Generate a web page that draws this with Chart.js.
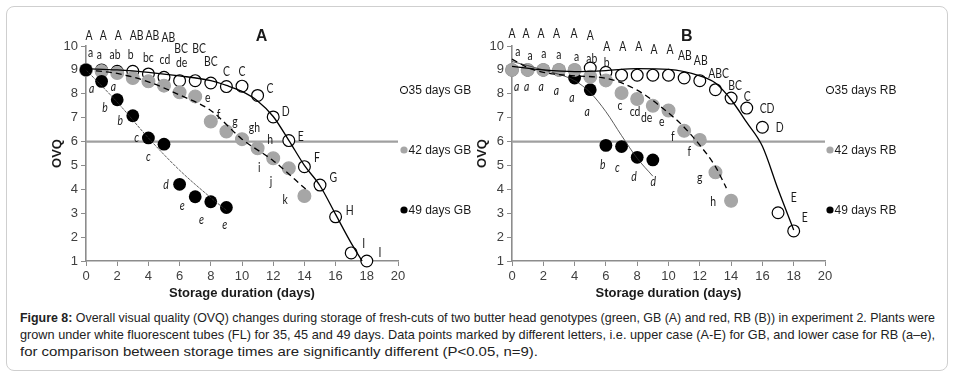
<!DOCTYPE html>
<html>
<head>
<meta charset="utf-8">
<script src="https://cdn.jsdelivr.net/npm/chart.js@4.4.1/dist/chart.umd.min.js"></script>
<style>
  body { margin: 0; background: #fff; width: 955px; height: 379px; overflow: hidden; position: relative; font-family: Arial, "Liberation Sans", sans-serif; }
  #frame { position: absolute; left: 6px; top: 6px; width: 940px; height: 363px; border: 1.5px solid #cfcfcf; border-radius: 8px; }
  #wrapA { position: absolute; left: 0; top: 0; }
  #wrapB { position: absolute; left: 475px; top: 0; }
  #caption { position: absolute; left: 20px; top: 309px; font-size: 13px; line-height: 17px; color: #222; }
  .line { display: block; white-space: nowrap; width: max-content; transform-origin: 0 0; }
</style>
</head>
<body>
<div id="frame"></div>
<div id="wrapA"><canvas id="chartA" width="475" height="305"></canvas></div>
<div id="wrapB"><canvas id="chartB" width="480" height="305"></canvas></div>
<div id="caption">
  <span class="line" data-w="915"><b>Figure 8:</b> Overall visual quality (OVQ) changes during storage of fresh-cuts of two butter head genotypes (green, GB (A) and red, RB (B)) in experiment 2. Plants were</span>
  <span class="line" data-w="915">grown under white fluorescent tubes (FL) for 35, 45 and 49 days. Data points marked by different letters, i.e. upper case (A-E) for GB, and lower case for RB (a–e),</span>
  <span class="line" data-w="518">for comparison between storage times are significantly different (P&lt;0.05, n=9).</span>
</div>
<script>
// ---- Panel A (GB) ----
const daysGB35 = [0, 1, 2, 3, 4, 5, 6, 7, 8, 9, 10, 11, 12, 13, 14, 15, 16, 17, 18];
const ovqGB35 = [9.0, 9.0, 8.94, 8.94, 8.83, 8.69, 8.55, 8.55, 8.45, 8.3, 8.32, 7.93, 7.03, 6.04, 4.95, 4.18, 2.85, 1.34, 1.0];
const daysGB42 = [0, 1, 2, 3, 4, 5, 6, 7, 8, 9, 10, 11, 12, 13, 14];
const ovqGB42 = [9.0, 8.94, 8.87, 8.66, 8.52, 8.34, 8.06, 7.89, 6.84, 6.42, 6.1, 5.72, 5.3, 4.88, 3.72];
const daysGB49 = [0, 1, 2, 3, 4, 5, 6, 7, 8, 9];
const ovqGB49 = [9.0, 8.52, 7.75, 7.08, 6.15, 5.89, 4.21, 3.69, 3.48, 3.24];

// trend curves
const trendDaysGB35 = [0, 2, 4, 6, 8, 9, 10, 11, 12, 13, 14, 15, 16, 17, 17.7];
const trendGB35 = [9.05, 9.0, 8.9, 8.75, 8.55, 8.35, 8.1, 7.7, 7.05, 6.05, 5.0, 4.15, 2.95, 1.75, 1.0];
const trendDaysGB42 = [0, 2, 4, 6, 8, 10, 12, 14.1];
const trendGB42 = [9.0, 8.85, 8.5, 7.95, 7.3, 6.1, 5.2, 4.0];
const trendDaysGB49 = [0, 2, 4, 6, 8, 9];
const trendGB49 = [9.0, 7.65, 6.15, 4.8, 3.65, 3.12];

// significance letters [day, ovq, text]
const lettersGB35 = [[0.2, 10.44, "A"], [1.1, 10.44, "A"], [2.07, 10.44, "A"], [3.25, 10.44, "AB"], [4.25, 10.44, "AB"], [5.28, 10.34, "AB"],
  [6.1, 9.88, "BC"], [7.25, 9.88, "BC"], [8.0, 9.33, "BC"], [9.0, 8.94, "C"], [10.0, 8.94, "C"], [11.8, 8.2, "C"], [12.8, 7.23, "D"],
  [13.76, 6.21, "E"], [14.8, 5.34, "F"], [15.85, 4.5, "G"], [16.9, 3.1, "H"], [17.8, 1.7, "I"], [18.85, 1.35, "I"]];
const lettersGB42 = [[0.3, 9.72, "a"], [0.85, 9.64, "a"], [1.86, 9.64, "ab"], [2.86, 9.64, "b"], [4.0, 9.5, "bc"], [5.06, 9.43, "cd"],
  [6.13, 9.29, "de"], [7.8, 7.85, "e"], [8.5, 7.12, "f"], [9.55, 6.84, "g"], [10.8, 6.56, "gh"], [11.8, 6.07, "h"],
  [11.1, 4.88, "i"], [11.86, 4.32, "j"], [12.76, 3.55, "k"]];
const lettersGB49 = [[0.36, 8.2, "a"], [1.75, 8.29, "a"], [1.22, 7.4, "b"], [2.2, 6.88, "b"], [3.25, 6.14, "c"], [4.0, 5.37, "c"],
  [5.13, 4.18, "d"], [6.17, 3.3, "e"], [7.4, 2.74, "e"], [8.9, 2.53, "e"]];

// ---- Panel B (RB) ----
const daysRB35 = [0, 1, 2, 3, 4, 5, 6, 7, 8, 9, 10, 11, 12, 13, 14, 15, 16, 17, 18];
const ovqRB35 = [9.0, 9.0, 9.0, 9.0, 9.0, 9.08, 8.9, 8.78, 8.78, 8.78, 8.78, 8.66, 8.55, 8.17, 7.82, 7.4, 6.6, 3.02, 2.26];
const daysRB42 = [0, 1, 2, 3, 4, 5, 6, 7, 8, 9, 10, 11, 12, 13, 14];
const ovqRB42 = [9.0, 9.0, 9.0, 9.0, 9.0, 8.71, 8.56, 8.03, 7.78, 7.5, 7.3, 6.45, 6.07, 4.71, 3.52];
const daysRB49 = [0, 1, 2, 3, 4, 5, 6, 7, 8, 9];
const ovqRB49 = [9.0, 9.0, 9.0, 9.0, 8.66, 8.17, 5.84, 5.79, 5.34, 5.23];

const trendDaysRB35 = [0, 2, 4, 6, 8, 10, 12, 13, 14, 15, 16, 17, 18];
const trendRB35 = [9.15, 9.0, 8.93, 8.97, 9.05, 9.02, 8.75, 8.45, 7.75, 6.8, 5.8, 4.0, 2.3];
const trendDaysRB42 = [0, 1, 2, 4, 6, 8, 10, 11, 12, 13, 13.7];
const trendRB42 = [9.45, 9.1, 8.9, 8.75, 8.65, 8.15, 7.2, 6.6, 5.85, 4.95, 4.05];
const trendDaysRB49 = [0, 2, 4, 5, 6, 7, 8, 9];
const trendRB49 = [9.35, 9.0, 8.55, 8.05, 7.25, 6.25, 5.3, 4.55];

const lettersRB35 = [[0.0, 10.52, "A"], [0.9, 10.52, "A"], [1.86, 10.52, "A"], [2.85, 10.52, "A"], [3.97, 10.5, "A"], [5.0, 10.44, "A"],
  [6.05, 9.97, "A"], [7.07, 9.97, "A"], [8.1, 9.97, "A"], [9.07, 9.85, "A"], [10.1, 9.85, "A"], [11.05, 9.57, "AB"],
  [12.06, 9.36, "AB"], [13.2, 8.85, "ABC"], [14.25, 8.34, "BC"], [15.03, 7.89, "C"], [16.3, 7.36, "CD"], [17.1, 6.56, "D"],
  [18.0, 3.66, "E"], [18.7, 2.82, "E"]];
const lettersRB42 = [[0.37, 9.76, "a"], [1.15, 9.6, "a"], [2.04, 9.68, "a"], [3.0, 9.64, "a"], [4.13, 9.55, "a"], [5.1, 9.46, "ab"],
  [6.05, 9.29, "b"], [6.9, 7.5, "c"], [7.86, 7.26, "cd"], [8.6, 6.98, "de"], [9.57, 6.84, "e"], [10.27, 6.21, "f"],
  [11.33, 5.58, "f"], [12.0, 4.5, "g"], [12.86, 3.48, "h"]];
const lettersRB49 = [[0.3, 8.29, "a"], [0.94, 8.29, "a"], [1.86, 8.29, "a"], [2.83, 8.14, "a"], [3.83, 7.82, "a"], [4.8, 7.26, "a"],
  [5.8, 5.02, "b"], [6.73, 4.88, "c"], [7.8, 4.53, "d"], [9.03, 4.32, "d"]];

const threshold = 6;
const xTicks = [0, 2, 4, 6, 8, 10, 12, 14, 16, 18, 20];

const GRAY = "#a6a6a6";
const AXIS = "#8c8c8c";

function pts(xs, ys) {
  return xs.map((x, i) => ({ x: x, y: ys[i] }));
}

function pointSet(xs, ys, kind, order) {
  return {
    data: pts(xs, ys),
    pointRadius: kind === "open" ? 5.9 : 6.4,
    pointBackgroundColor: kind === "open" ? "#fff" : (kind === "gray" ? GRAY : "#000"),
    pointBorderColor: kind === "open" ? "#000" : (kind === "gray" ? GRAY : "#000"),
    pointBorderWidth: kind === "open" ? 1.2 : (kind === "gray" ? 1.2 : 0),
    showLine: false,
    clip: false,
    order: order
  };
}

function lineSet(xs, ys, width, dash, color, order) {
  return {
    data: pts(xs, ys),
    showLine: true,
    pointRadius: 0,
    borderColor: color,
    borderWidth: width,
    borderDash: dash,
    cubicInterpolationMode: "monotone",
    fill: false,
    clip: false,
    order: order
  };
}

// letters, legend and the panel title drawn over the plot
function overlay(cfg) {
  return {
    id: "overlay",
    afterDatasetsDraw(chart) {
      const ctx = chart.ctx;
      const xs = chart.scales.x, ys = chart.scales.y;
      const area = chart.chartArea;
      ctx.save();
      ctx.textAlign = "center";
      ctx.textBaseline = "middle";
      ctx.fillStyle = "#1a1a1a";
      cfg.groups.forEach(g => {
        ctx.font = g.font;
        g.items.forEach(it => {
          // letters are a narrow face in the picture: squeeze them a little
          ctx.save();
          ctx.translate(xs.getPixelForValue(it[0]), ys.getPixelForValue(it[1]));
          ctx.scale(0.8, 1);
          ctx.fillText(it[2], 0, 0);
          ctx.restore();
        });
      });

      ctx.font = "bold 16px Arial, 'Liberation Sans'";
      ctx.fillText(cfg.title[2], xs.getPixelForValue(cfg.title[0]), ys.getPixelForValue(cfg.title[1]));

      // legend
      ctx.textAlign = "left";
      ctx.font = "12px Arial, 'Liberation Sans'";
      cfg.legend.forEach((item, i) => {
        const x = area.right + cfg.legendDx;
        const y = area.top + 44 + i * 60;
        ctx.beginPath();
        ctx.arc(x, y, 3.6, 0, Math.PI * 2);
        if (item.kind === "open") {
          ctx.fillStyle = "#fff"; ctx.fill();
          ctx.strokeStyle = "#000"; ctx.lineWidth = 1; ctx.stroke();
        } else {
          ctx.fillStyle = item.kind === "gray" ? GRAY : "#000"; ctx.fill();
        }
        ctx.fillStyle = "#1a1a1a";
        ctx.fillText(item.text, x + 4.5, y + 0.5);
      });
      ctx.restore();
    }
  };
}

function makeScales(yWidth) {
  const common = {
    type: "linear",
    grid: { display: true, drawOnChartArea: false, drawTicks: true, tickLength: 5, color: AXIS, lineWidth: 1 },
    border: { display: true, color: AXIS, width: 1.6 },
    ticks: { font: { family: "Arial, 'Liberation Sans'", size: 13 }, color: "#404040", padding: 3 }
  };
  return {
    x: Object.assign({}, common, {
      min: 0, max: 20,
      afterBuildTicks: s => { s.ticks = xTicks.map(v => ({ value: v })); },
      ticks: Object.assign({}, common.ticks),
      title: { display: true, text: "Storage duration (days)", color: "#1a1a1a",
        font: { family: "Arial, 'Liberation Sans'", size: 13, weight: "bold" }, padding: { top: 0, bottom: 4 } },
      afterFit: s => { s.height = 44; }
    }),
    y: Object.assign({}, common, {
      min: 1, max: 10,
      ticks: Object.assign({}, common.ticks, { stepSize: 1 }),
      title: { display: true, text: "OVQ", color: "#1a1a1a",
        font: { family: "Arial, 'Liberation Sans'", size: 13, weight: "bold" }, padding: { top: 0, bottom: 0 } },
      afterFit: s => { s.width = yWidth; }
    })
  };
}

const upperFont = "13px Lato, 'Open Sans', sans-serif";
const lowerFont = "13px Lato, 'Open Sans', sans-serif";
const italicFont = "italic 13px Lato, 'Open Sans', sans-serif";

new Chart(document.getElementById("chartA"), {
  type: "scatter",
  data: {
    datasets: [
      lineSet(trendDaysGB35, trendGB35, 1.3, [], "#000", 0),
      lineSet(trendDaysGB42, trendGB42, 1.3, [6, 4], "#000", 1),
      lineSet(trendDaysGB49, trendGB49, 0.8, [3, 1], "#333", 2),
      pointSet(daysGB49, ovqGB49, "black", 3),
      pointSet(daysGB42, ovqGB42, "gray", 4),
      pointSet(daysGB35, ovqGB35, "open", 5),
      lineSet([0, 20], [threshold, threshold], 2.2, [], "#a0a0a0", 6)
    ]
  },
  options: {
    responsive: false,
    animation: false,
    devicePixelRatio: 1,
    layout: { padding: { left: 50, top: 46, right: 77, bottom: 0 } },
    plugins: { legend: { display: false }, tooltip: { enabled: false } },
    scales: makeScales(36)
  },
  plugins: [overlay({
    groups: [
      { font: upperFont, items: lettersGB35 },
      { font: lowerFont, items: lettersGB42 },
      { font: italicFont, items: lettersGB49 }
    ],
    title: [11.25, 10.38, "A"],
    legendDx: 6,
    legend: [{ kind: "open", text: "35 days GB" }, { kind: "gray", text: "42 days GB" }, { kind: "black", text: "49 days GB" }]
  })]
});

new Chart(document.getElementById("chartB"), {
  type: "scatter",
  data: {
    datasets: [
      lineSet(trendDaysRB35, trendRB35, 1.3, [], "#000", 0),
      lineSet(trendDaysRB42, trendRB42, 1.3, [6, 4], "#000", 1),
      lineSet(trendDaysRB49, trendRB49, 0.8, [], "#333", 2),
      pointSet(daysRB42, ovqRB42, "gray", 3),
      pointSet(daysRB49, ovqRB49, "black", 4),
      pointSet(daysRB35, ovqRB35, "open", 5),
      lineSet([0, 20], [threshold, threshold], 2.2, [], "#a0a0a0", 6)
    ]
  },
  options: {
    responsive: false,
    animation: false,
    devicePixelRatio: 1,
    layout: { padding: { left: 0, top: 46, right: 130, bottom: 0 } },
    plugins: { legend: { display: false }, tooltip: { enabled: false } },
    scales: makeScales(37)
  },
  plugins: [overlay({
    groups: [
      { font: upperFont, items: lettersRB35 },
      { font: lowerFont, items: lettersRB42 },
      { font: italicFont, items: lettersRB49 }
    ],
    title: [11.16, 10.41, "B"],
    legendDx: 5,
    legend: [{ kind: "open", text: "35 days RB" }, { kind: "gray", text: "42 days RB" }, { kind: "black", text: "49 days RB" }]
  })]
});

// squeeze caption lines to the widths in the picture
document.querySelectorAll("#caption .line").forEach(el => {
  const w = el.getBoundingClientRect().width;
  const target = Number(el.dataset.w);
  if (w > 0) el.style.transform = "scaleX(" + (target / w) + ")";
});
</script>
</body>
</html>
